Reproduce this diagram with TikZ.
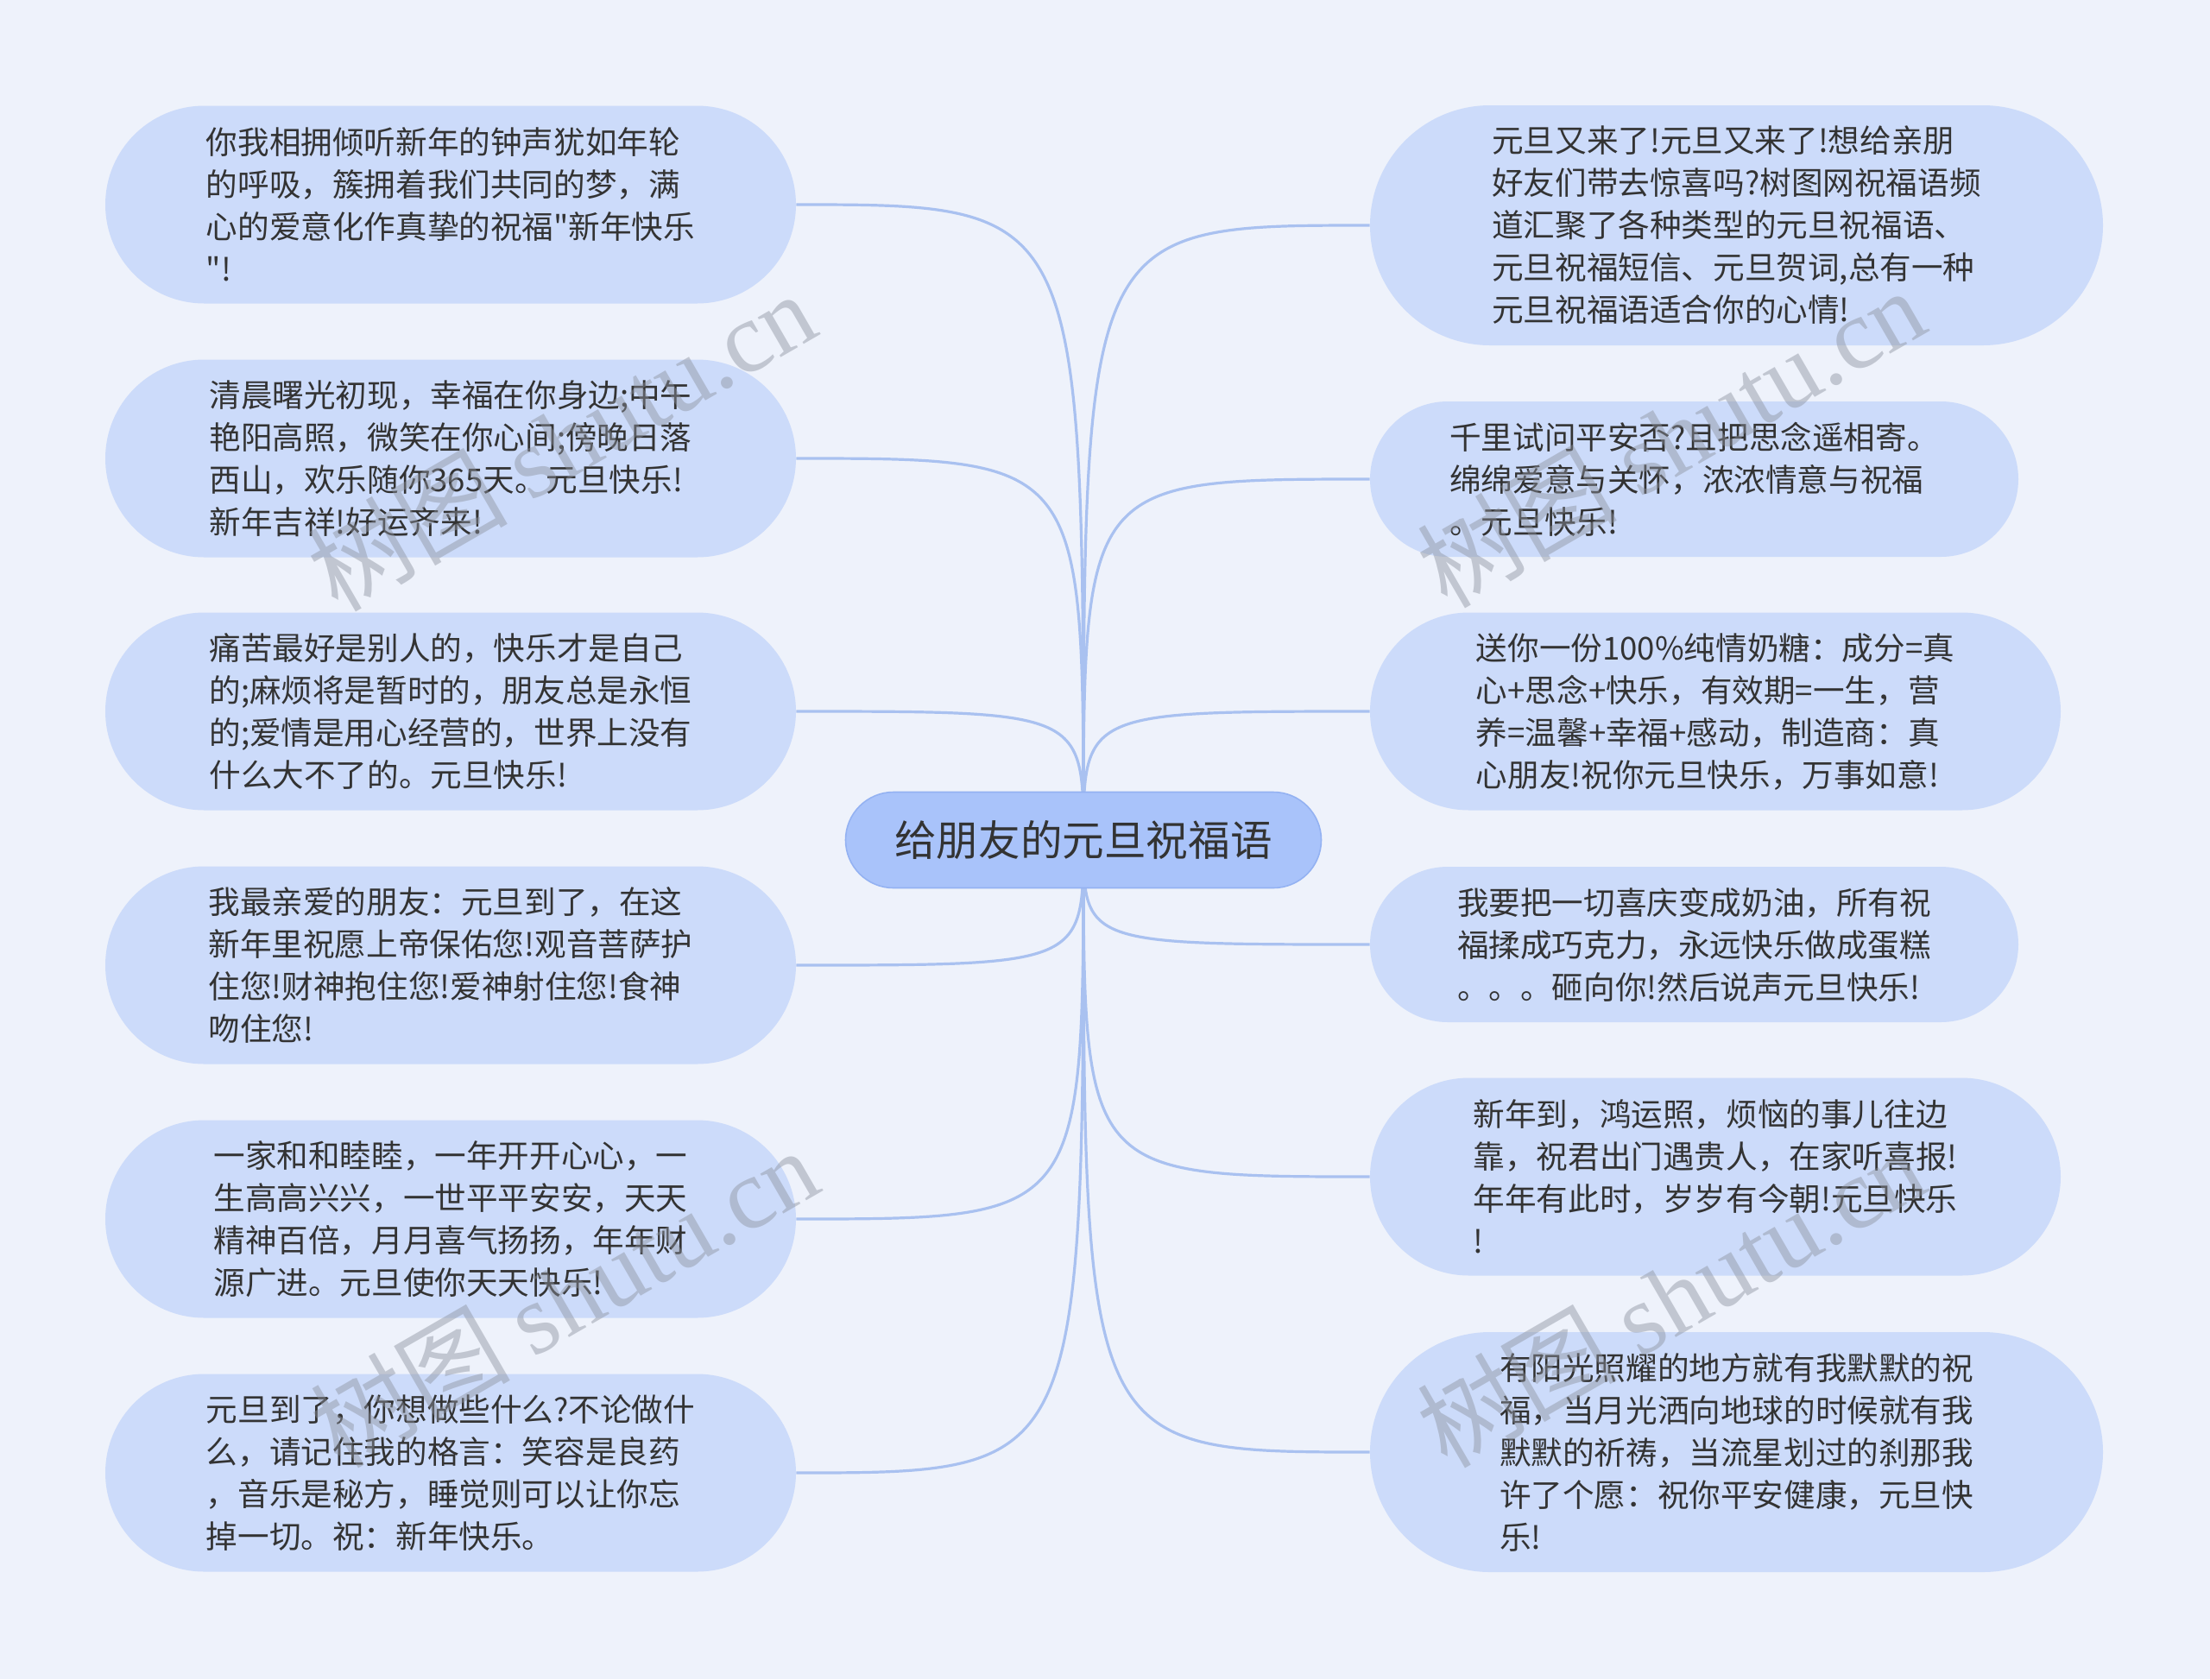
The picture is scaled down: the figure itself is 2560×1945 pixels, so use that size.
\documentclass[tikz,border=0pt]{standalone}
\usepackage{fontspec}
\newfontfamily\cjk{Noto Sans CJK SC}
\newfontfamily\wmserif{Liberation Serif}
\usetikzlibrary{backgrounds}
\definecolor{bgc}{HTML}{EEF2FB}
\definecolor{leaffill}{HTML}{CCDBFA}
\definecolor{rootfill}{HTML}{A9C3FA}
\definecolor{rootdraw}{HTML}{94B2F2}
\definecolor{linkc}{HTML}{A9C1F0}
\definecolor{txt}{HTML}{333333}
\definecolor{wmc}{HTML}{8C929E}
\begin{document}
\begin{tikzpicture}[x=0.5pt,y=-0.5pt,
  leaf/.style={fill=leaffill, text=txt, align=left, inner sep=0pt,
    font=\cjk\fontsize{18.3pt}{24.5pt}\selectfont},
  leafm/.style={leaf, minimum width=400pt, minimum height=114.5pt, rounded corners=57.25pt},
  leafs/.style={leaf, minimum width=375.5pt, minimum height=90pt, rounded corners=45pt},
  leafl/.style={leaf, minimum width=424.5pt, minimum height=139pt, rounded corners=69.5pt},
  root/.style={fill=rootfill, draw=rootdraw, line width=0.8pt, text=txt, inner sep=0pt,
    minimum width=275.5pt, minimum height=55.5pt, rounded corners=27.75pt,
    font=\cjk\fontsize{24.3pt}{29pt}\selectfont},
  link/.style={draw=linkc, line width=1.6pt},
  wm/.style={text=wmc, text opacity=0.45, rotate=30, inner sep=0pt}]
\useasboundingbox (0,0) rectangle (2560,1945);
\begin{scope}[on background layer]
  \fill[bgc] (0,0) rectangle (2560,1945);
\end{scope}

\node[root] (c) at (1255,973) {给朋友的元旦祝福语};

\node[leafm] (l1) at (522,237) {你我相拥倾听新年的钟声犹如年轮\\的呼吸，簇拥着我们共同的梦，满\\心的爱意化作真挚的祝福"新年快乐\\"!};
\node[leafm] (l2) at (522,531) {清晨曙光初现，幸福在你身边;中午\\艳阳高照，微笑在你心间;傍晚日落\\西山，欢乐随你365天。元旦快乐!\\新年吉祥!好运齐来!};
\node[leafm] (l3) at (522,824) {痛苦最好是别人的，快乐才是自己\\的;麻烦将是暂时的，朋友总是永恒\\的;爱情是用心经营的，世界上没有\\什么大不了的。元旦快乐!};
\node[leafm] (l4) at (522,1118) {我最亲爱的朋友：元旦到了，在这\\新年里祝愿上帝保佑您!观音菩萨护\\住您!财神抱住您!爱神射住您!食神\\吻住您!};
\node[leafm] (l5) at (522,1412) {一家和和睦睦，一年开开心心，一\\生高高兴兴，一世平平安安，天天\\精神百倍，月月喜气扬扬，年年财\\源广进。元旦使你天天快乐!};
\node[leafm] (l6) at (522,1706) {元旦到了，你想做些什么?不论做什\\么，请记住我的格言：笑容是良药\\，音乐是秘方，睡觉则可以让你忘\\掉一切。祝：新年快乐。};

\node[leafl] (r1) at (2011.5,261) {元旦又来了!元旦又来了!想给亲朋\\好友们带去惊喜吗?树图网祝福语频\\道汇聚了各种类型的元旦祝福语、\\元旦祝福短信、元旦贺词,总有一种\\元旦祝福语适合你的心情!};
\node[leafs] (r2) at (1962.5,555) {千里试问平安否?且把思念遥相寄。\\绵绵爱意与关怀，浓浓情意与祝福\\。元旦快乐!};
\node[leafm] (r3) at (1987,824) {送你一份100\%纯情奶糖：成分=真\\心+思念+快乐，有效期=一生，营\\养=温馨+幸福+感动，制造商：真\\心朋友!祝你元旦快乐，万事如意!};
\node[leafs] (r4) at (1962.5,1094) {我要把一切喜庆变成奶油，所有祝\\福揉成巧克力，永远快乐做成蛋糕\\。。。砸向你!然后说声元旦快乐!};
\node[leafm] (r5) at (1987,1363) {新年到，鸿运照，烦恼的事儿往边\\靠，祝君出门遇贵人，在家听喜报!\\年年有此时，岁岁有今朝!元旦快乐\\!};
\node[leafl] (r6) at (2011.5,1682) {有阳光照耀的地方就有我默默的祝\\福，当月光洒向地球的时候就有我\\默默的祈祷，当流星划过的刹那我\\许了个愿：祝你平安健康，元旦快\\乐!};

\begin{scope}[on background layer]
  \foreach \n in {l1,l2,l3,l4,l5,l6}
    \draw[link] (c.center) .. controls (c.center |- \n.east) .. (\n.east);
  \foreach \n in {r1,r2,r3,r4,r5,r6}
    \draw[link] (c.center) .. controls (c.center |- \n.west) .. (\n.west);
\end{scope}

\node[wm] (w1) at (650,510) {\cjk\fontsize{58pt}{60pt}\selectfont 树图 \wmserif shutu.cn};
\node[wm] (w2) at (1935,506) {\cjk\fontsize{58pt}{60pt}\selectfont 树图 \wmserif shutu.cn};
\node[wm] (w3) at (653,1502) {\cjk\fontsize{58pt}{60pt}\selectfont 树图 \wmserif shutu.cn};
\node[wm] (w4) at (1935,1502) {\cjk\fontsize{58pt}{60pt}\selectfont 树图 \wmserif shutu.cn};
\end{tikzpicture}
\end{document}
